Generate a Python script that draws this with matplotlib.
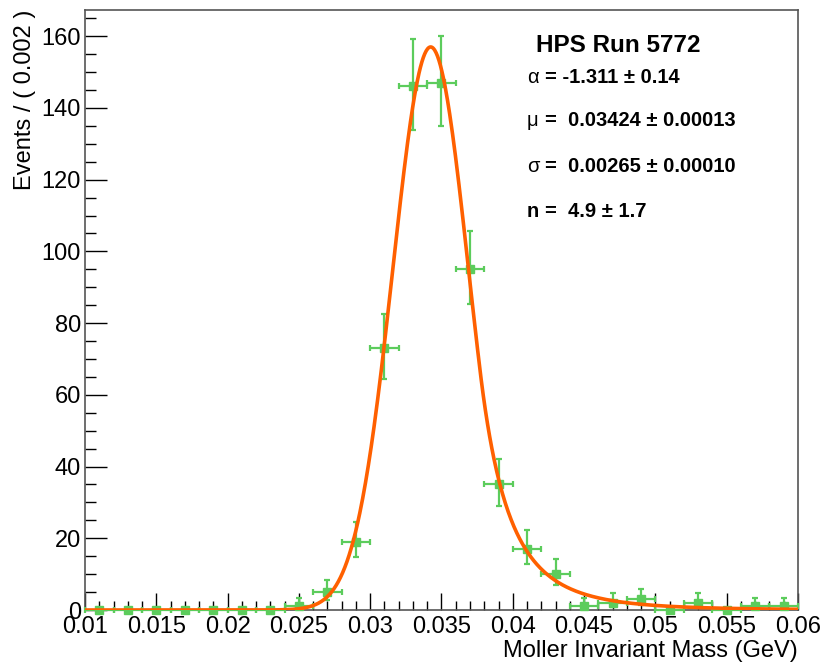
import math
import numpy as np
import matplotlib
matplotlib.use("Agg")
import matplotlib.pyplot as plt
from matplotlib.ticker import MultipleLocator

plt.rcParams["font.family"] = ["Liberation Sans", "DejaVu Sans"]

# binned Moller mass spectrum, 0.002 GeV bins
bin_centers = [0.011, 0.013, 0.015, 0.017, 0.019, 0.021, 0.023, 0.025, 0.027,
               0.029, 0.031, 0.033, 0.035, 0.037, 0.039, 0.041, 0.043, 0.045,
               0.047, 0.049, 0.051, 0.053, 0.055, 0.057, 0.059]
counts = [0, 0, 0, 0, 0, 0, 0, 1, 5,
          19, 73, 146, 147, 95, 35, 17, 10, 1,
          2, 3, 0, 2, 0, 1, 1]
bin_width = 0.002

# Crystal Ball fit result
cb_alpha = -1.311
cb_mu = 0.03424
cb_sigma = 0.00265
cb_n = 4.9
cb_peak = 157.0

x_ticks = [0.01, 0.015, 0.02, 0.025, 0.03, 0.035, 0.04, 0.045, 0.05, 0.055, 0.06]
x_tick_labels = ["0.01", "0.015", "0.02", "0.025", "0.03", "0.035", "0.04",
                 "0.045", "0.05", "0.055", "0.06"]
y_ticks = [0, 20, 40, 60, 80, 100, 120, 140, 160]

param_lines = [
    ("\u03b1", "= -1.311 \u00b1 0.14"),
    ("\u03bc", "=  0.03424 \u00b1 0.00013"),
    ("\u03c3", "=  0.00265 \u00b1 0.00010"),
    ("n", "=  4.9 \u00b1 1.7"),
]


def poisson_cdf(k, mu):
    term = math.exp(-mu)
    total = term
    for i in range(1, k + 1):
        term *= mu / i
        total += term
    return total


def solve(f, lo, hi):
    for _ in range(100):
        mid = 0.5 * (lo + hi)
        if f(mid) > 0:
            lo = mid
        else:
            hi = mid
    return 0.5 * (lo + hi)


def poisson_interval(k, tail=0.158655):
    # central 68% interval (Garwood)
    up = solve(lambda m: poisson_cdf(k, m) - tail, 0.0, k + 50.0)
    if k == 0:
        return 0.0, up
    lo = solve(lambda m: tail - (1.0 - poisson_cdf(k - 1, m)), 0.0, k + 50.0)
    return lo, up


def crystal_ball(x, alpha, mu, sigma, n):
    t = (x - mu) / sigma
    if alpha < 0:
        t = -t
    a = abs(alpha)
    A = (n / a) ** n * np.exp(-0.5 * a * a)
    B = n / a - a
    core = np.exp(-0.5 * t ** 2)
    tail = A * np.abs(B - t) ** (-n)
    return np.where(t >= -a, core, tail)


x = np.array(bin_centers)
y = np.array(counts, dtype=float)
err_lo, err_hi = [], []
for k in counts:
    if k == 0:
        err_lo.append(0.0)
        err_hi.append(0.0)
    else:
        lo, up = poisson_interval(k)
        err_lo.append(k - lo)
        err_hi.append(up - k)

fig = plt.figure(figsize=(8.26, 6.64), dpi=100)
ax = fig.add_axes([0.1029, 0.0813, 0.8632, 0.9036])

green = "#5ccc5c"
ax.errorbar(x, y, xerr=bin_width / 2, yerr=[err_lo, err_hi], fmt="s",
            color=green, ms=6, elinewidth=1.6, capsize=2.5, capthick=1.6,
            clip_on=False, zorder=3)

xs = np.linspace(0.01, 0.06, 1000)
ax.plot(xs, cb_peak * crystal_ball(xs, cb_alpha, cb_mu, cb_sigma, cb_n),
        color="#ff6000", lw=2.6, zorder=4)

ax.set_xlim(0.01, 0.06)
ax.set_ylim(0, 167.3)
ax.set_xticks(x_ticks)
ax.set_xticklabels(x_tick_labels)
ax.set_yticks(y_ticks)
ax.xaxis.set_minor_locator(MultipleLocator(0.001))
ax.yaxis.set_minor_locator(MultipleLocator(5))
ax.tick_params(axis="x", which="major", direction="in", length=12.5, width=1,
               labelsize=17, pad=4, top=False)
ax.tick_params(axis="x", which="minor", direction="in", length=6.5, width=1,
               top=False)
ax.tick_params(axis="y", which="major", direction="in", length=15.5, width=1,
               labelsize=17, pad=3, right=False)
ax.tick_params(axis="y", which="minor", direction="in", length=8, width=1,
               right=False)
for sp in ax.spines.values():
    sp.set_color("#555555")
    sp.set_linewidth(1.2)

ax.set_xlabel("Moller Invariant Mass (GeV)", fontsize=17, loc="right",
              labelpad=2)
ax.set_ylabel("Events / ( 0.002 )", fontsize=17, loc="top", labelpad=4)

# fit summary, placed in figure coordinates
fig.text(0.649, 0.932, "HPS Run 5772", fontsize=17.5, fontweight="bold",
         va="center", ha="left")
line_y = [0.884, 0.819, 0.750, 0.681]
for (sym, rest), yy in zip(param_lines, line_y):
    fig.text(0.638, yy, sym, fontsize=14.5,
             fontweight="bold" if sym == "n" else "normal",
             va="center", ha="left")
    fig.text(0.660, yy, rest, fontsize=14.5, fontweight="bold",
             va="center", ha="left")

fig.savefig("out.png", dpi=100)
